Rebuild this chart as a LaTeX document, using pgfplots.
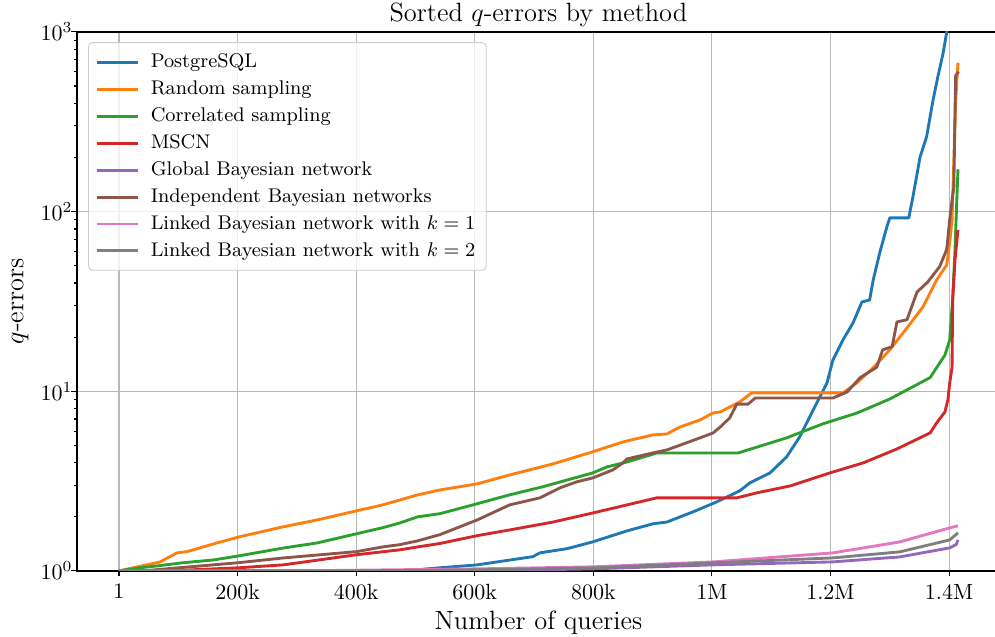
\documentclass[border=0pt]{standalone}
\usepackage{pgfplots}
\pgfplotsset{compat=1.18}
\definecolor{c0}{HTML}{1F77B4}
\definecolor{c1}{HTML}{FF7F0E}
\definecolor{c2}{HTML}{2CA02C}
\definecolor{c3}{HTML}{D62728}
\definecolor{c4}{HTML}{9467BD}
\definecolor{c5}{HTML}{8C564B}
\definecolor{c6}{HTML}{E377C2}
\definecolor{c7}{HTML}{7F7F7F}
\begin{document}
\begin{tikzpicture}
\begin{axis}[
  at={(0,0)}, anchor=south west,
  scale only axis, width=419.5pt, height=245pt,
  ymode=log, ymin=1, ymax=1000,
  xmin=-70.8, xmax=1485.6,
  xtick={0,200,400,600,800,1000,1200,1400},
  xticklabels={1,200k,400k,600k,800k,1M,1.2M,1.4M},
  ytick={1,10,100,1000},
  xtick pos=left, ytick pos=left,
  tick align=outside,
  major tick length=2.5pt, minor tick length=1.4pt,
  every tick/.style={black, line width=0.5pt},
  axis line style={line width=0.6pt},
  grid=major, major grid style={color=black!28, line width=0.5pt},
  title={Sorted $q$-errors by method},
  every axis title/.style={at={(0.5,1)}, anchor=base, yshift=4.5pt, font=\large},
  xlabel={Number of queries}, ylabel={$q$-errors}, label style={font=\large},
  xlabel style={yshift=2pt},
  ylabel style={at={(axis description cs:-0.0617,0.5)}, anchor=center},
  yticklabel style={xshift=4pt},
  legend style={at={(0.012,0.981)}, anchor=north west, font=\small, draw=black!20,
    rounded corners=2pt, fill=white, fill opacity=0.8, text opacity=1,
    row sep=0.45pt, inner xsep=3pt, inner ysep=3pt},
  legend cell align=left,
  legend image code/.code={\draw[#1] (0pt,0pt) -- (19pt,0pt); \path (22pt,0pt);},
  every axis plot/.append style={line width=1.3pt, line join=round},
]
\addplot[c0] coordinates {
(0,1) (480,1.0) (541,1.04) (604,1.08) (698,1.20) (710,1.26) (756,1.33) (799,1.45)
(857,1.67) (901,1.83) (924,1.87) (968,2.13) (1008,2.42) (1047,2.79) (1064,3.09)
(1098,3.51) (1126,4.31) (1148,5.57) (1165,7.20) (1182,9.30) (1194,11.1) (1204,14.9)
(1221,19.3) (1238,24.0) (1253,31.4) (1266,32.2) (1272,41.6) (1283,58.9) (1295,82.1)
(1300,92.2) (1332,92.2) (1339,120.6) (1351,201) (1362,260) (1373,418) (1381,562)
(1390,764) (1396,1000) (1415,3000)};
\addlegendentry{PostgreSQL}
\addplot[c1] coordinates {
(0,1.0) (69,1.12) (98,1.26) (115,1.28) (165,1.43) (204,1.55) (277,1.76) (334,1.92)
(401,2.16) (445,2.33) (504,2.65) (541,2.82) (604,3.05) (659,3.42) (732,3.94) (799,4.60)
(850,5.22) (900,5.71) (924,5.78) (946,6.32) (980,6.92) (1002,7.57) (1014,7.67)
(1047,8.72) (1067,9.79) (1221,9.79) (1244,11.1) (1272,13.5) (1300,17.0) (1329,22.5)
(1356,29.5) (1379,41.6) (1396,50.4) (1401,66.9) (1405,89.8) (1406,116) (1411,405) (1415,673)};
\addlegendentry{Random sampling}
\addplot[c2] coordinates {
(0,1.0) (35,1.04) (69,1.07) (108,1.11) (159,1.15) (201,1.21) (277,1.34) (334,1.43)
(401,1.61) (445,1.74) (474,1.85) (504,2.00) (541,2.08) (597,2.33) (659,2.65) (715,2.94)
(799,3.51) (823,3.79) (857,4.04) (907,4.53) (1044,4.53) (1126,5.50) (1187,6.58)
(1245,7.57) (1300,9.05) (1368,11.9) (1393,15.9) (1401,19.3) (1406,32.2) (1410,61.5)
(1413,116) (1415,172)};
\addlegendentry{Correlated sampling}
\addplot[c3] coordinates {
(0,1.0) (81,1.0) (201,1.04) (277,1.08) (401,1.23) (474,1.31) (504,1.36) (541,1.42)
(604,1.57) (659,1.69) (732,1.87) (799,2.10) (857,2.33) (907,2.55) (1042,2.55)
(1076,2.72) (1132,2.97) (1199,3.51) (1255,3.99) (1312,4.77) (1368,5.86) (1379,6.66)
(1393,7.67) (1398,8.97) (1401,11.1) (1405,13.6) (1406,32.2) (1410,53.9) (1415,79)};
\addlegendentry{MSCN}
\addplot[c4] coordinates {
(0,1) (600,1.0) (799,1.026) (1002,1.080) (1204,1.122) (1317,1.196) (1401,1.343)
(1412,1.40) (1415,1.488)};
\addlegendentry{Global Bayesian network}
\addplot[c5] coordinates {
(0,1.0) (40,1.0) (201,1.11) (277,1.18) (401,1.28) (445,1.36) (474,1.40) (504,1.47)
(541,1.59) (604,1.92) (659,2.33) (710,2.55) (744,2.90) (772,3.13) (799,3.29) (833,3.65)
(850,3.99) (857,4.20) (900,4.53) (924,4.71) (980,5.50) (1002,5.86) (1014,6.32)
(1030,7.10) (1042,8.48) (1061,8.48) (1073,9.16) (1204,9.16) (1228,9.90) (1250,11.9)
(1278,13.6) (1288,17.0) (1304,17.7) (1312,24.3) (1329,25.0) (1346,35.7) (1363,40.2)
(1384,49.3) (1396,61.5) (1401,89.8) (1405,116) (1408,137) (1411,570) (1416,600)};
\addlegendentry{Independent Bayesian networks}
\addplot[c6] coordinates {
(0,1) (300,1.0) (604,1.026) (799,1.053) (1002,1.122) (1204,1.259) (1317,1.450)
(1401,1.735) (1415,1.781)};
\addlegendentry{Linked Bayesian network with $k=1$}
\addplot[c7] coordinates {
(0,1) (400,1.0) (604,1.013) (799,1.039) (1002,1.108) (1204,1.181) (1317,1.276)
(1401,1.487) (1415,1.628)};
\addlegendentry{Linked Bayesian network with $k=2$}
\end{axis}
\pgfresetboundingbox
\path[use as bounding box] (-35pt,-30pt) rectangle (417.3pt,259.5pt);
\end{tikzpicture}
\end{document}
